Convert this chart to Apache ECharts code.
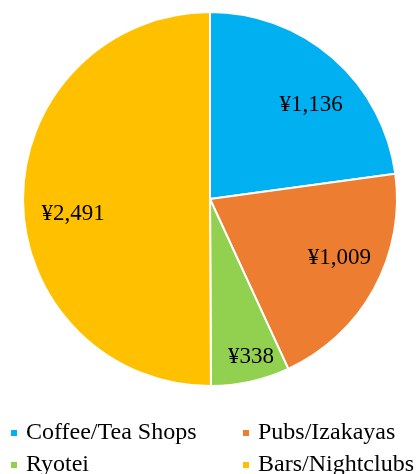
<!DOCTYPE html>
<html>
<head>
<meta charset="utf-8">
<script src="https://cdn.jsdelivr.net/npm/echarts@6/dist/echarts.min.js"></script>
<style>
  html, body { margin: 0; padding: 0; background: #fff; }
  #chart { width: 416px; height: 474px; }
</style>
</head>
<body>
<div id="chart"></div>
<script>
// 数据
const categories = ['Coffee/Tea Shops', 'Pubs/Izakayas', 'Ryotei', 'Bars/Nightclubs']
const values = [1136, 1009, 338, 2491]
const colors = ['#00B0F0', '#ED7D31', '#92D050', '#FFC000']

const font = '"Liberation Serif", "Times New Roman", serif'

// 图例两列两行: [left, top]
const legendPos = [[9, 421], [241, 421], [9, 453], [241, 453]]
// 标签微调(相对默认位置)
const labelShift = [[7, 14], [4, -10], [10, 18], [6, 15]]

const pieData = categories.map((name, i) => ({
    name: name,
    value: values[i],
    itemStyle: { color: colors[i] }
}))

const myChart = echarts.init(document.getElementById('chart'))

myChart.setOption({
    animation: false,
    legend: categories.map((name, i) => ({
        left: legendPos[i][0],
        top: legendPos[i][1],
        padding: 0,
        itemWidth: 8,
        itemHeight: 8,
        icon: 'rect',
        data: [name],
        textStyle: { fontFamily: font, fontSize: 24, color: '#000', padding: [0, 0, 0, 3] }
    })),
    series: [
        {
            type: 'pie',
            center: [210, 199],
            radius: [0, 187],
            startAngle: 90,
            clockwise: true,
            label: { show: false },
            labelLine: { show: false },
            itemStyle: { borderColor: '#fff', borderWidth: 2 },
            emphasis: { disabled: true },
            data: pieData
        },
        {
            // 只用来放标签,透明的
            type: 'pie',
            center: [210, 199],
            radius: [0, 280],
            startAngle: 90,
            clockwise: true,
            silent: true,
            z: 5,
            itemStyle: { color: 'transparent', borderWidth: 0 },
            label: {
                show: true,
                position: 'inside',
                fontFamily: font,
                fontSize: 23,
                color: '#000',
                textBorderWidth: 0,
                formatter: p => '¥' + p.value.toLocaleString('en-US')
            },
            labelLayout: p => ({ dx: labelShift[p.dataIndex][0], dy: labelShift[p.dataIndex][1] }),
            labelLine: { show: false },
            emphasis: { disabled: true },
            data: categories.map((name, i) => ({ name: name, value: values[i] }))
        }
    ]
})
</script>
</body>
</html>
